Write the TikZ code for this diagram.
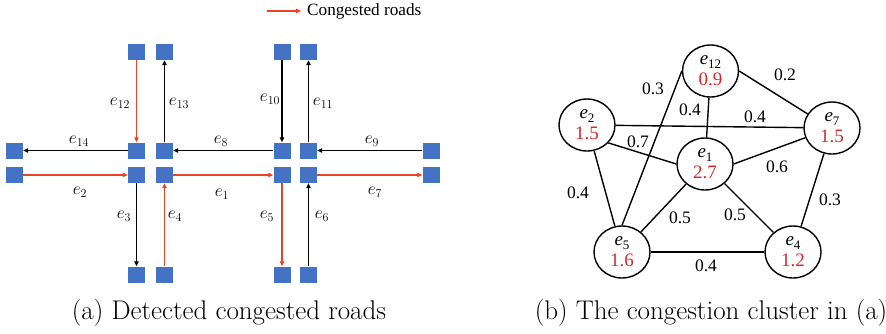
\documentclass[tikz,border=0pt]{standalone}
\usepackage{fontspec}
\usetikzlibrary{arrows.meta,shapes.geometric}
\newfontfamily\tnr{Liberation Serif}
\definecolor{sqblue}{RGB}{68,114,196}
\definecolor{roadred}{RGB}{234,67,35}
\definecolor{numred}{RGB}{214,40,40}
\tikzset{
  sq/.style={fill=sqblue,draw=none,minimum width=17pt,minimum height=16pt,inner sep=0pt},
  blackarr/.style={draw=black,line width=1.2pt,-{Triangle[length=5pt,width=4.5pt]}},
  redarr/.style={draw=roadred,line width=1.2pt,-{Triangle[length=5pt,width=4.5pt]}},
  elab/.style={font=\fontsize{18}{18}\selectfont,inner sep=0pt},
  cnode/.style={draw,ellipse,line width=1.4pt,minimum width=56pt,minimum height=52pt,inner sep=0pt,align=center,font=\tnr\fontsize{19}{21}\selectfont},
  cedge/.style={line width=1.4pt},
  wlab/.style={font=\tnr\fontsize{17.5}{16}\selectfont,inner sep=0pt},
  capt/.style={font=\fontsize{27}{30}\selectfont,inner sep=0pt}
}
\newcommand{\ce}[2]{\textit{e}\raisebox{-0.4ex}{\fontsize{13}{13}\selectfont #1}\\\textcolor{numred}{#2}}
\begin{document}
\begin{tikzpicture}[x=1pt,y=-1pt]
\useasboundingbox (0,0) rectangle (886,333);
% legend
\coordinate (lg1) at (267,11);
\coordinate (lg2) at (301,11);
\draw[redarr] (lg1) -- (lg2);
\node[anchor=west,font=\tnr\fontsize{17.2}{18}\selectfont,inner sep=0pt] (legtext) at (307,11) {Congested roads};
% squares
\node[sq] (t1) at (136.5,52) {};
\node[sq] (t2) at (164.5,52) {};
\node[sq] (t3) at (282,52) {};
\node[sq] (t4) at (308.5,52) {};
\node[sq] (ul) at (14.5,150.5) {};
\node[sq] (u1) at (136.5,150.5) {};
\node[sq] (u2) at (164.5,150.5) {};
\node[sq] (u3) at (282,150.5) {};
\node[sq] (u4) at (308.5,150.5) {};
\node[sq] (ur) at (431,150.5) {};
\node[sq] (ll) at (14.5,175) {};
\node[sq] (l1) at (136.5,175) {};
\node[sq] (l2) at (164.5,175) {};
\node[sq] (l3) at (282,175) {};
\node[sq] (l4) at (308.5,175) {};
\node[sq] (lr) at (431,175) {};
\node[sq] (b1) at (136.5,274.5) {};
\node[sq] (b2) at (164.5,274.5) {};
\node[sq] (b3) at (282,274.5) {};
\node[sq] (b4) at (308.5,274.5) {};
% roads
\draw[redarr] (t1.south) -- (u1.north);
\draw[blackarr] (u2.north) -- (t2.south);
\draw[blackarr] (t3.south) -- (u3.north);
\draw[blackarr] (u4.north) -- (t4.south);
\draw[blackarr] (u1.west) -- (ul.east);
\draw[blackarr] (u3.west) -- (u2.east);
\draw[blackarr] (ur.west) -- (u4.east);
\draw[redarr] (ll.east) -- (l1.west);
\draw[redarr] (l2.east) -- (l3.west);
\draw[redarr] (l4.east) -- (lr.west);
\draw[blackarr] (l1.south) -- (b1.north);
\draw[redarr] (b2.north) -- (l2.south);
\draw[redarr] (l3.south) -- (b3.north);
\draw[blackarr] (b4.north) -- (l4.south);
% road labels
\node[elab] (n12) at (120,103) {$e_{12}$};
\node[elab] (n13) at (179,103) {$e_{13}$};
\node[elab] (n10) at (270,99) {$e_{10}$};
\node[elab] (n11) at (323,103) {$e_{11}$};
\node[elab] (n14) at (79,141) {$e_{14}$};
\node[elab] (n8) at (221,141) {$e_{8}$};
\node[elab] (n9) at (372,141) {$e_{9}$};
\node[elab] (n2) at (80,192) {$e_{2}$};
\node[elab] (n1) at (222,194) {$e_{1}$};
\node[elab] (n7) at (375,192) {$e_{7}$};
\node[elab] (n3) at (124,216) {$e_{3}$};
\node[elab] (n4) at (175,216) {$e_{4}$};
\node[elab] (n5) at (267,216) {$e_{5}$};
\node[elab] (n6) at (322,216) {$e_{6}$};
% cluster graph
\node[cnode] (c12) at (710.5,71) {\ce{12}{0.9}};
\node[cnode] (c2) at (587,125) {\ce{2}{1.5}};
\node[cnode] (c7) at (832,128) {\ce{7}{1.5}};
\node[cnode] (c1) at (705,164) {\ce{1}{2.7}};
\node[cnode] (c5) at (622,252) {\ce{5}{1.6}};
\node[cnode] (c4) at (793,252) {\ce{4}{1.2}};
\draw[cedge] (c12.east) -- (c7.150);
\draw[cedge] (c12) -- (c1);
\draw[cedge] (c12.west) -- (c5.north);
\draw[cedge] (c2) -- (c7);
\draw[cedge] (c2.-40) -- (c1.west);
\draw[cedge] (c2) -- (c5);
\draw[cedge] (c1.east) -- (c7.200);
\draw[cedge] (c1) -- (c5);
\draw[cedge] (c1) -- (c4);
\draw[cedge] (c7) -- (c4);
\draw[cedge] (c5) -- (c4);
\node[wlab] (w1) at (653,89) {0.3};
\node[wlab] (w2) at (785,75) {0.2};
\node[wlab] (w3) at (690,110) {0.4};
\node[wlab] (w4) at (755,117) {0.4};
\node[wlab] (w5) at (638,142) {0.7};
\node[wlab] (w6) at (777,167) {0.6};
\node[wlab] (w7) at (578,193) {0.4};
\node[wlab] (w8) at (680,218) {0.5};
\node[wlab] (w9) at (735,215) {0.5};
\node[wlab] (w10) at (830,200) {0.3};
\node[wlab] (w11) at (706,266) {0.4};
% captions
\node[capt] (capa) at (229,313) {(a) Detected congested roads};
\node[capt] (capb) at (711,313) {(b) The congestion cluster in (a)};
\end{tikzpicture}
\end{document}
